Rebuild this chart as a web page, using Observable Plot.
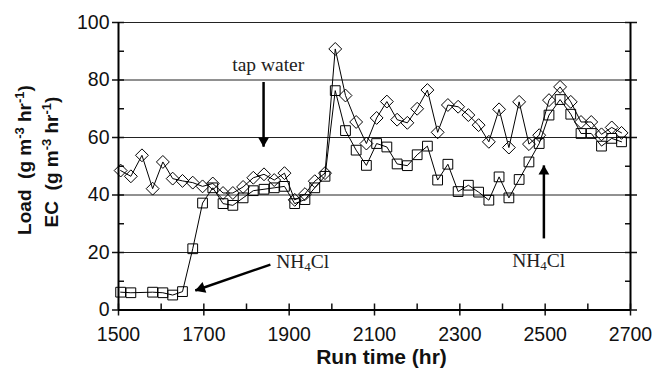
<!DOCTYPE html>
<html><head><meta charset="utf-8">
<script src="https://cdn.jsdelivr.net/npm/d3@7"></script>
<script src="https://cdn.jsdelivr.net/npm/@observablehq/plot@0.6"></script>
<style>
html,body{margin:0;padding:0;background:#fff;}
#chart svg{display:block;}
</style></head><body><div id="chart"></div>
<script>
// Load series (diamonds)
const loadTime = [1505,1529,1555,1580,1604,1627,1650,1674,1697,1721,1745,1768,1792,1816,1841,1865,1889,1913,1937,1960,1984,2008,2032,2057,2081,2105,2129,2153,2177,2200,2224,2248,2272,2296,2320,2344,2368,2392,2415,2439,2462,2486,2509,2535,2560,2584,2608,2632,2656,2679];
const loadValue = [48.5,46.5,53.8,42.2,51.5,45.7,44.9,44.3,43.0,44.0,40.7,40.7,42.8,46.0,47.2,45.2,47.6,38.3,40.3,44.8,47.6,90.8,74.6,65.4,57.9,66.8,72.5,66.2,65.1,70.0,76.5,61.8,71.3,70.7,67.8,64.3,58.5,69.8,56.5,72.4,57.7,60.8,73.0,77.6,72.4,65.4,65.4,61.1,63.5,61.6];
// EC series (squares)
const ecTime = [1505,1529,1580,1604,1627,1650,1674,1697,1721,1745,1768,1792,1816,1841,1865,1889,1913,1937,1960,1984,2008,2032,2057,2081,2105,2129,2153,2177,2200,2224,2248,2272,2296,2320,2344,2368,2392,2415,2439,2462,2486,2509,2535,2560,2584,2608,2632,2656,2679];
const ecValue = [6.2,6.0,6.2,6.0,5.2,6.4,21.3,37.2,42.5,37.0,36.4,39.0,41.5,42.0,42.5,43.0,37.0,38.4,42.5,46.5,76.3,62.4,55.6,50.3,57.9,56.7,50.8,50.2,54.0,57.0,45.2,50.7,41.2,43.4,41.0,38.2,46.3,39.0,45.4,51.5,57.9,67.8,73.2,68.1,61.4,61.4,57.0,59.7,58.5];

const xTicks = [1500,1700,1900,2100,2300,2500,2700];
const xMinorTicks = [1600,1800,2000,2200,2400,2600];
const yTicks = [0,20,40,60,80,100];
const yMinorTicks = [10,30,50,70,90];
const gridValues = [20,40,60,80,100];

// annotations (data units)
const tapArrow = {x1: 1840, y1: 79.3, x2: 1840, y2: 56.8};
const nhArrowLeft = {x1: 1856, y1: 15.8, x2: 1680, y2: 6.8};
const nhArrowRight = {x1: 2497, y1: 24.9, x2: 2497, y2: 50.3};
const tapLabel = {x: 1851, y: 85.2, text: "tap water"};
const nhLabels = [{x: 1933, y: 15.9}, {x: 2486, y: 16.1}];

const FONT = "'Liberation Sans', Arial, sans-serif";
const SERIF = "'Liberation Serif', 'Times New Roman', serif";

const loadData = loadTime.map((t, i) => ({t, v: loadValue[i]}));
const ecData = ecTime.map((t, i) => ({t, v: ecValue[i]}));
const arrows = [tapArrow, nhArrowLeft, nhArrowRight];

const plot = Plot.plot({
  width: 652, height: 378,
  marginLeft: 118, marginRight: 22, marginTop: 22, marginBottom: 68.5,
  style: {fontFamily: FONT, fontSize: "19.5px", color: "#111", background: "#fff", overflow: "visible"},
  x: {domain: [1500, 2700]},
  y: {domain: [0, 100]},
  marks: [
    Plot.ruleY(gridValues, {stroke: "#222", strokeWidth: 1}),
    Plot.axisY({ticks: yTicks, tickSize: 6, tickPadding: 3, tickFormat: d => String(d), label: null, strokeWidth: 1.5, fontSize: 19.5}),
    Plot.axisY({ticks: [...yTicks, ...yMinorTicks], tickSize: -6, tickFormat: () => "", label: null, strokeWidth: 1.5}),
    Plot.axisY({anchor: "right", ticks: yTicks, tickSize: 6, tickFormat: () => "", label: null, strokeWidth: 1.5}),
    Plot.axisY({anchor: "right", ticks: [...yTicks, ...yMinorTicks], tickSize: -6, tickFormat: () => "", label: null, strokeWidth: 1.5}),
    Plot.axisX({ticks: xTicks, tickSize: 6, tickPadding: 11, tickFormat: d => String(d), label: null, strokeWidth: 1.5, fontSize: 19.5}),
    Plot.axisX({ticks: [...xTicks, ...xMinorTicks], tickSize: -6, tickFormat: () => "", label: null, strokeWidth: 1.5}),
    Plot.ruleX([1500, 2700], {stroke: "#000", strokeWidth: 2}),
    Plot.ruleY([0], {stroke: "#000", strokeWidth: 2}),
    Plot.line(loadData, {x: "t", y: "v", stroke: "#000", strokeWidth: 1}),
    Plot.dot(loadData, {x: "t", y: "v", symbol: "diamond2", r: 5.8, stroke: "#000", fill: "none", strokeWidth: 1}),
    Plot.line(ecData, {x: "t", y: "v", stroke: "#000", strokeWidth: 1}),
    Plot.dot(ecData, {x: "t", y: "v", symbol: "square", r: 5.5, stroke: "#000", fill: "none", strokeWidth: 1}),
    Plot.link(arrows, {x1: "x1", y1: "y1", x2: "x2", y2: "y2", stroke: "#000", strokeWidth: 2.5}),
    Plot.dot([tapArrow], {x: "x2", y: "y2", symbol: "triangle", r: 4, fill: "#000", stroke: "none", rotate: 180, dy: -6}),
    Plot.dot([nhArrowLeft], {x: "x2", y: "y2", symbol: "triangle", r: 4.3, fill: "#000", stroke: "none", rotate: 251, dx: 6, dy: -2}),
    Plot.dot([nhArrowRight], {x: "x2", y: "y2", symbol: "triangle", r: 4, fill: "#000", stroke: "none", rotate: 0, dy: 6}),
    Plot.text([tapLabel], {x: "x", y: "y", text: "text", fontFamily: SERIF, fontSize: 19.5, fill: "#222"}),
    Plot.text(["Run time (hr)"], {frameAnchor: "bottom", lineAnchor: "middle", dy: 47, dx: 7, fontWeight: "bold", fontSize: 21, fill: "#111"})
  ]
});

document.getElementById("chart").appendChild(plot);

const svg = d3.select(plot);
const xs = plot.scale("x"), ys = plot.scale("y");

// NH4Cl labels with subscript
for (const d of nhLabels) {
  const t = svg.append("text")
    .attr("x", xs.apply(d.x)).attr("y", ys.apply(d.y))
    .attr("text-anchor", "middle").attr("dominant-baseline", "middle")
    .attr("font-family", SERIF).attr("font-size", 19.5).attr("fill", "#222");
  t.append("tspan").text("NH");
  t.append("tspan").attr("font-size", 13).attr("dy", 4).text("4");
  t.append("tspan").attr("dy", -4).text("Cl");
}

// Y-axis title (two lines with superscripts)
function yTitle(cx, cy, word) {
  const t = svg.append("text")
    .attr("transform", `translate(${cx},${cy}) rotate(-90)`)
    .attr("text-anchor", "middle")
    .attr("font-family", FONT).attr("font-weight", "bold").attr("font-size", 19).attr("fill", "#111");
  t.append("tspan").text(word + "\u00a0\u00a0(g m");
  t.append("tspan").attr("font-size", 13).attr("dy", -7).text("-3");
  t.append("tspan").attr("dy", 7).text(" hr");
  t.append("tspan").attr("font-size", 13).attr("dy", -7).text("-1");
  t.append("tspan").attr("dy", 7).text(")");
}
yTitle(31, 160, "Load");
yTitle(58, 162, "EC");
</script>
</body></html>
